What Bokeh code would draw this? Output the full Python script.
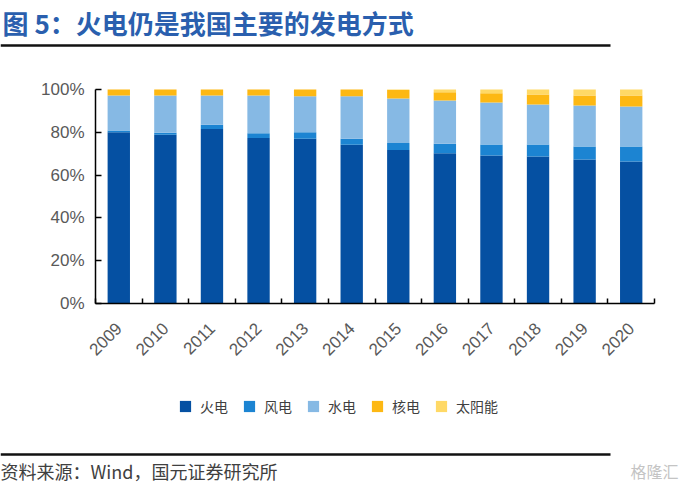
import math
from bokeh.plotting import figure
from bokeh.models import (ColumnDataSource, Range1d, LinearAxis, FixedTicker, PrintfTickFormatter,
                          Legend, LegendItem)
from bokeh.core.properties import value
from bokeh.embed import file_html
from bokeh.resources import INLINE

# ---- data ----
years = ["2009", "2010", "2011", "2012", "2013", "2014", "2015", "2016", "2017", "2018", "2019", "2020"]
thermal = [80.0, 78.8, 81.6, 77.3, 77.0, 74.2, 71.7, 70.2, 69.2, 68.7, 67.3, 66.4]
wind    = [0.8, 1.0, 1.9, 2.3, 3.0, 2.8, 3.3, 4.4, 5.1, 5.6, 6.1, 7.0]
hydro   = [16.4, 17.4, 13.7, 17.6, 16.9, 19.9, 20.8, 20.3, 19.6, 18.7, 19.1, 18.7]
nuclear = [2.8, 2.8, 2.8, 2.8, 3.1, 3.1, 4.0, 3.8, 4.4, 4.7, 4.7, 5.1]
solar   = [0.0, 0.0, 0.0, 0.0, 0.0, 0.0, 0.2, 1.3, 1.7, 2.3, 2.8, 2.8]
series_names = ["火电", "风电", "水电", "核电", "太阳能"]
y_ticks = [0, 20, 40, 60, 80, 100]
title_text = "图 5：火电仍是我国主要的发电方式"
source_text = "资料来源：Wind，国元证券研究所"
watermark = "格隆汇"

colors = ["#0550A2", "#1C84D2", "#86B9E4", "#FDB813", "#FFD966"]
CJK = "Noto Sans CJK SC"
W, H = 682, 492
N = len(years)

# pixel layout of the plotting area (whole canvas is the frame)
AX_L, AX_R, AX_T, AX_B = 95, 654, 89, 303
PXX = (AX_R - AX_L) / N          # pixels per category
PXY = (AX_B - AX_T) / 100.0      # pixels per percent


def dx(px):
    return -0.5 + (px - AX_L) / PXX


def dy(py):
    return (AX_B - py) / PXY


p = figure(width=W, height=H, x_range=Range1d(dx(0), dx(W)), y_range=Range1d(dy(H), dy(0)),
           output_backend="svg", toolbar_location=None, min_border=0,
           x_axis_location=None, y_axis_location=None)
p.grid.visible = False
p.outline_line_color = None

x = list(range(N))
src = ColumnDataSource(dict(x=x, s0=thermal, s1=wind, s2=hydro, s3=nuclear, s4=solar))
rends = p.vbar_stack(["s0", "s1", "s2", "s3", "s4"], x="x", width=0.48, color=colors,
                     source=src, line_color=None)

xaxis = LinearAxis(ticker=FixedTicker(ticks=x, minor_ticks=[i - 0.5 for i in range(N + 1)]),
                   major_label_overrides={i: y for i, y in enumerate(years)},
                   fixed_location=0, bounds=(-0.5, N - 0.5))
xaxis.major_label_orientation = math.pi / 4
xaxis.major_tick_in = 0
xaxis.major_tick_out = 0
xaxis.minor_tick_in = 5
xaxis.minor_tick_out = 0
xaxis.minor_tick_line_color = "black"
xaxis.minor_tick_line_width = 1.5
xaxis.axis_line_color = "black"
xaxis.axis_line_width = 1.5
xaxis.major_label_text_font = "Liberation Sans"
xaxis.major_label_text_font_size = "17px"
xaxis.major_label_text_color = "#595959"
xaxis.major_label_standoff = 22
p.add_layout(xaxis, "below")

yaxis = LinearAxis(ticker=FixedTicker(ticks=y_ticks, minor_ticks=[]),
                   formatter=PrintfTickFormatter(format="%d%%"),
                   fixed_location=-0.5, bounds=(0, 100))
yaxis.major_tick_in = 6
yaxis.major_tick_out = 0
yaxis.major_tick_line_color = "black"
yaxis.major_tick_line_width = 1.5
yaxis.axis_line_color = "black"
yaxis.axis_line_width = 1.5
yaxis.major_label_text_font = "Liberation Sans"
yaxis.major_label_text_font_size = "17px"
yaxis.major_label_text_color = "#595959"
yaxis.major_label_standoff = 11
p.add_layout(yaxis, "left")

legend = Legend(items=[LegendItem(label=n, renderers=[r]) for n, r in zip(series_names, rends)],
                location=(178, 76), orientation="horizontal",
                glyph_width=14, glyph_height=14, label_standoff=8, spacing=14,
                padding=0, margin=0, border_line_color=None, background_fill_alpha=0,
                label_text_font=CJK, label_text_font_size="14px", label_text_color="#404040")
p.add_layout(legend, "center")

# title, rules, source
p.text(x=[dx(2)], y=[dy(22)], text=[title_text], text_font=value(CJK), text_font_size="26px",
       text_font_style="bold", text_color="#2A5FAE", text_baseline="middle", text_align="left")
rule_y = [45, 454]
p.segment(x0=[dx(0)] * 2, x1=[dx(610)] * 2, y0=[dy(yy) for yy in rule_y], y1=[dy(yy) for yy in rule_y],
          line_color="#111111", line_width=2.5)
p.text(x=[dx(0)], y=[dy(470)], text=[source_text], text_font=value(CJK), text_font_size="18px",
       text_color="#404040", text_baseline="middle", text_align="left")
p.text(x=[dx(678)], y=[dy(470)], text=[watermark], text_font=value(CJK), text_font_size="16px",
       text_color="#C4C4C4", text_baseline="middle", text_align="right")

open("out.html", "w").write(file_html(p, INLINE))
